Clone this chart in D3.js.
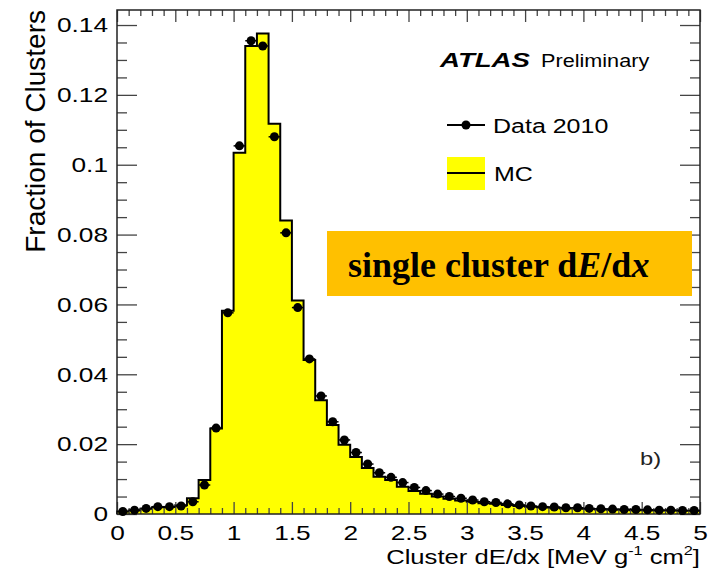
<!DOCTYPE html>
<html>
<head>
<meta charset="utf-8">
<script src="https://cdn.jsdelivr.net/npm/d3@7"></script>
<style>
  body { margin: 0; background: #fff; }
  svg { display: block; font-family: "Liberation Sans", Arial, sans-serif; }
</style>
</head>
<body>
<svg id="chart" width="715" height="580"></svg>
<script>
// bords des intervalles (dE/dx, MeV g-1 cm2)
const binEdges = [0, 0.1, 0.2, 0.3, 0.4, 0.5, 0.6, 0.7, 0.8, 0.9,
  1.0, 1.1, 1.2, 1.3, 1.4, 1.5, 1.6, 1.7, 1.8, 1.9,
  2.0, 2.1, 2.2, 2.3, 2.4, 2.5, 2.6, 2.7, 2.8, 2.9,
  3.0, 3.1, 3.2, 3.3, 3.4, 3.5, 3.6, 3.7, 3.8, 3.9,
  4.0, 4.1, 4.2, 4.3, 4.4, 4.5, 4.6, 4.7, 4.8, 4.9, 5.0];

// simulation MC (histogramme jaune)
const mcValues = [0.0007, 0.0010, 0.0015, 0.0019, 0.0020, 0.0025, 0.0045, 0.0097, 0.0245, 0.0582,
  0.1034, 0.1340, 0.1376, 0.1117, 0.0840, 0.0611, 0.0441, 0.0326, 0.0255, 0.0198,
  0.0163, 0.0132, 0.0107, 0.0097, 0.0078, 0.0066, 0.0058, 0.0050, 0.0044, 0.0039,
  0.0035, 0.0031, 0.0029, 0.0026, 0.0023, 0.0021, 0.0019, 0.0018, 0.0016, 0.0016,
  0.0014, 0.0013, 0.0012, 0.0012, 0.0011, 0.0011, 0.0010, 0.0010, 0.0009, 0.0009];

// données 2010 (points noirs)
const dataValues = [0.0007, 0.0011, 0.0016, 0.0021, 0.0021, 0.0023, 0.0035, 0.0083, 0.0246, 0.0576,
  0.1054, 0.1355, 0.1340, 0.1080, 0.0805, 0.0591, 0.0444, 0.0338, 0.0264, 0.0212,
  0.0176, 0.0143, 0.0118, 0.0105, 0.0090, 0.0076, 0.0067, 0.0057, 0.0050, 0.0045,
  0.0040, 0.0035, 0.0033, 0.0029, 0.0026, 0.0023, 0.0021, 0.0020, 0.0018, 0.0018,
  0.0016, 0.0015, 0.0014, 0.0013, 0.0013, 0.0012, 0.0011, 0.0011, 0.0010, 0.0010];

const xTickValues = [0, 0.5, 1, 1.5, 2, 2.5, 3, 3.5, 4, 4.5, 5];
const xTickLabels = ["0", "0.5", "1", "1.5", "2", "2.5", "3", "3.5", "4", "4.5", "5"];
const yTickValues = [0, 0.02, 0.04, 0.06, 0.08, 0.1, 0.12, 0.14];
const yTickLabels = ["0", "0.02", "0.04", "0.06", "0.08", "0.1", "0.12", "0.14"];

// l'image d'origine est étirée horizontalement
const sx = 1.25;

const svg = d3.select("#chart");
const plotLeft = 117, plotRight = 700, plotTop = 10, plotBottom = 514;

const x = d3.scaleLinear().domain([0, 5]).range([plotLeft, plotRight]);
const y = d3.scaleLinear().domain([0, 0.1443]).range([plotBottom, plotTop]);

// histogramme MC
const steps = binEdges.slice(0, -1).map((e, i) => [e, mcValues[i]]);
steps.push([5, mcValues[mcValues.length - 1]]);

svg.append("path")
  .attr("d", d3.area().curve(d3.curveStepAfter)
    .x(d => x(d[0])).y0(y(0)).y1(d => y(d[1]))(steps))
  .attr("fill", "#ffff00");

const outline = [[0, 0]].concat(steps, [[5, 0]]);
svg.append("path")
  .attr("d", d3.line().curve(d3.curveStepAfter)
    .x(d => x(d[0])).y(d => y(d[1]))(outline))
  .attr("fill", "none")
  .attr("stroke", "#000")
  .attr("stroke-width", 2);

// axes : graduations vers l'intérieur sur les quatre côtés
function styleAxis(g) {
  g.select(".domain").remove();
  g.selectAll(".tick line").attr("stroke", "#444").attr("stroke-width", 1.3);
}
const xMinor = d3.range(0, 51).map(i => i / 10).filter(v => Math.round(v * 10) % 5 !== 0);
const yMinor = d3.range(0, 29).map(i => i * 0.005).filter(v => Math.round(v * 1000) % 20 !== 0);

svg.append("g").attr("transform", `translate(0,${plotBottom})`)
  .call(d3.axisBottom(x).tickValues(xMinor).tickSizeInner(-6).tickSizeOuter(0).tickFormat(""))
  .call(styleAxis);
svg.append("g").attr("transform", `translate(0,${plotTop})`)
  .call(d3.axisTop(x).tickValues(xMinor).tickSizeInner(-6).tickSizeOuter(0).tickFormat(""))
  .call(styleAxis);
svg.append("g").attr("transform", `translate(0,${plotTop})`)
  .call(d3.axisTop(x).tickValues(xTickValues).tickSizeInner(-12).tickSizeOuter(0).tickFormat(""))
  .call(styleAxis);
svg.append("g").attr("transform", `translate(${plotLeft},0)`)
  .call(d3.axisLeft(y).tickValues(yMinor).tickSizeInner(-10).tickSizeOuter(0).tickFormat(""))
  .call(styleAxis);
svg.append("g").attr("transform", `translate(${plotRight},0)`)
  .call(d3.axisRight(y).tickValues(yMinor).tickSizeInner(-10).tickSizeOuter(0).tickFormat(""))
  .call(styleAxis);
svg.append("g").attr("transform", `translate(${plotRight},0)`)
  .call(d3.axisRight(y).tickValues(yTickValues).tickSizeInner(-20).tickSizeOuter(0).tickFormat(""))
  .call(styleAxis);

const xAxis = svg.append("g").attr("transform", `translate(0,${plotBottom})`)
  .call(d3.axisBottom(x).tickValues(xTickValues).tickSizeInner(-12).tickSizeOuter(0)
    .tickPadding(11).tickFormat((d, i) => xTickLabels[i]))
  .call(styleAxis);
xAxis.selectAll("text")
  .attr("font-size", 21).attr("fill", "#000")
  .attr("font-family", "Liberation Sans, Arial, sans-serif")
  .attr("transform", `scale(${sx},1)`);

const yAxis = svg.append("g").attr("transform", `translate(${plotLeft},0)`)
  .call(d3.axisLeft(y).tickValues(yTickValues).tickSizeInner(-20).tickSizeOuter(0)
    .tickPadding(9).tickFormat((d, i) => yTickLabels[i]))
  .call(styleAxis);
yAxis.selectAll("text")
  .attr("font-size", 21).attr("fill", "#000")
  .attr("font-family", "Liberation Sans, Arial, sans-serif")
  .attr("x", -9 / sx)
  .attr("transform", `scale(${sx},1)`);

// cadre
svg.append("rect")
  .attr("x", plotLeft).attr("y", plotTop)
  .attr("width", plotRight - plotLeft).attr("height", plotBottom - plotTop)
  .attr("fill", "none").attr("stroke", "#222").attr("stroke-width", 1.5);

// points de données avec barres horizontales
const pts = svg.append("g");
dataValues.forEach((v, i) => {
  pts.append("line")
    .attr("x1", x(binEdges[i])).attr("x2", x(binEdges[i + 1]))
    .attr("y1", y(v)).attr("y2", y(v))
    .attr("stroke", "#000").attr("stroke-width", 1.5);
  pts.append("circle")
    .attr("cx", x((binEdges[i] + binEdges[i + 1]) / 2))
    .attr("cy", y(v))
    .attr("r", 4.5)
    .attr("fill", "#000");
});

// titres des axes
function stretchedText(px, py, size, anchor) {
  return svg.append("text")
    .attr("transform", `translate(${px},${py}) scale(${sx},1)`)
    .attr("font-size", size)
    .attr("text-anchor", anchor)
    .attr("fill", "#000");
}

const xt = stretchedText(plotRight, 564, 20.5, "end");
xt.append("tspan").text("Cluster dE/dx [MeV g");
xt.append("tspan").attr("font-size", 13).attr("dy", -9).text("-1");
xt.append("tspan").attr("dy", 9).text(" cm");
xt.append("tspan").attr("font-size", 13).attr("dy", -9).text("2");
xt.append("tspan").attr("dy", 9).text("]");

svg.append("text")
  .attr("transform", `translate(45,${plotTop}) rotate(-90)`)
  .attr("font-size", 28)
  .attr("text-anchor", "end")
  .attr("fill", "#000")
  .text("Fraction of Clusters");

// légende
stretchedText(440, 67, 20, "start")
  .attr("font-weight", "bold").attr("font-style", "italic")
  .attr("transform", `translate(440,67) scale(1.38,1)`)
  .text("ATLAS");
stretchedText(541, 67, 18.5, "start")
  .attr("transform", `translate(541,67) scale(1.17,1)`)
  .text("Preliminary");

svg.append("line")
  .attr("x1", 447).attr("x2", 485).attr("y1", 125).attr("y2", 125)
  .attr("stroke", "#000").attr("stroke-width", 2);
svg.append("circle").attr("cx", 466).attr("cy", 125).attr("r", 4.5).attr("fill", "#000");
stretchedText(493, 133, 20, "start").text("Data 2010");

svg.append("rect")
  .attr("x", 447).attr("y", 157).attr("width", 38).attr("height", 33)
  .attr("fill", "#ffff00");
svg.append("line")
  .attr("x1", 447).attr("x2", 485).attr("y1", 173).attr("y2", 173)
  .attr("stroke", "#000").attr("stroke-width", 2);
stretchedText(494, 181, 20, "start").text("MC");

stretchedText(640, 465, 19, "start").attr("fill", "#222").text("b)");

// encadré orange
svg.append("rect")
  .attr("x", 327).attr("y", 231).attr("width", 365).attr("height", 65)
  .attr("fill", "#ffc000");
const lab = svg.append("text")
  .attr("x", 348).attr("y", 277)
  .attr("font-family", "Liberation Serif, Times New Roman, serif")
  .attr("font-weight", "bold")
  .attr("font-size", 36)
  .attr("fill", "#000");
lab.append("tspan").text("single cluster d");
lab.append("tspan").attr("font-style", "italic").text("E");
lab.append("tspan").text("/d");
lab.append("tspan").attr("font-style", "italic").text("x");
</script>
</body>
</html>
